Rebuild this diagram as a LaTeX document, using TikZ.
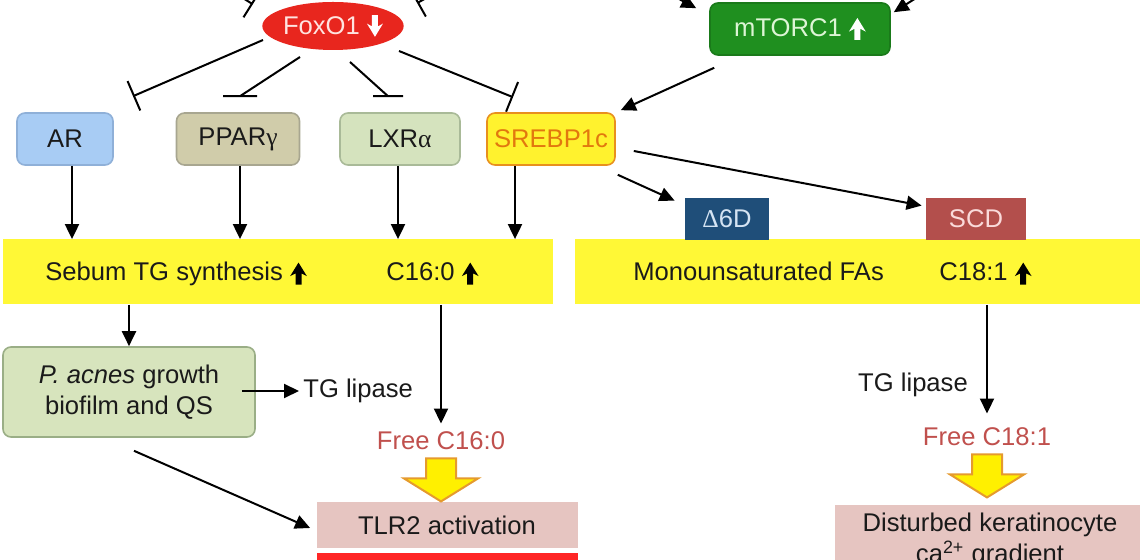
\documentclass[tikz,border=0pt]{standalone}
\usepackage{fontspec}
\setmainfont{Liberation Sans}
\newfontfamily\greekfont{Liberation Serif}
\usepackage{tikz}
\usetikzlibrary{arrows.meta,positioning,calc,shapes.geometric}
\definecolor{FoxRed}{HTML}{E8261E}
\definecolor{FoxText}{HTML}{FFE4E0}
\definecolor{MtorGreen}{HTML}{1F8F1F}
\definecolor{MtorText}{HTML}{DDF5D5}
\definecolor{ArBlue}{HTML}{A8CCF4}
\definecolor{ArEdge}{HTML}{8FB0D8}
\definecolor{PparTan}{HTML}{D0CCAA}
\definecolor{PparEdge}{HTML}{A8A690}
\definecolor{LxrGreen}{HTML}{D5E3BE}
\definecolor{LxrEdge}{HTML}{A9BA98}
\definecolor{SrebpYellow}{HTML}{FFF22E}
\definecolor{SrebpEdge}{HTML}{E8901E}
\definecolor{SrebpText}{HTML}{E2780E}
\definecolor{BandYellow}{HTML}{FFF836}
\definecolor{DeltaBlue}{HTML}{1F4E79}
\definecolor{DeltaText}{HTML}{D5E4F3}
\definecolor{ScdRed}{HTML}{B34F4C}
\definecolor{ScdText}{HTML}{FADADA}
\definecolor{PacGreen}{HTML}{D7E4BD}
\definecolor{PacEdge}{HTML}{9AAE86}
\definecolor{FreeRed}{HTML}{C0504D}
\definecolor{TlrPink}{HTML}{E6C5C1}
\definecolor{BarRed}{HTML}{FF2626}
\definecolor{ArrowYellow}{HTML}{FFF000}
\definecolor{ArrowEdge}{HTML}{E59A2E}
\definecolor{InkBlack}{HTML}{1A1A1A}
\newcommand{\UpMark}[1][black]{\tikz[baseline=0pt,x=1pt,y=1pt,sharp corners]\fill[#1]
  (-1.5,-1.8)--(-1.5,3.8)--(-4.2,2.4)--(0,9.2)--(4.2,2.4)--(1.5,3.8)--(1.5,-1.8)--cycle;}
\newcommand{\DownMark}[1][white]{\tikz[baseline=0pt,x=1pt,y=1pt,sharp corners]\fill[#1]
  (-1.5,9.6)--(-1.5,4)--(-4,5.4)--(0,-1.2)--(4,5.4)--(1.5,4)--(1.5,9.6)--cycle;}

\begin{document}
\begin{tikzpicture}[x=0.5pt,y=-0.5pt,
  font=\fontsize{12.8}{15.5}\selectfont, text=InkBlack,
  act/.style={-{Triangle[length=7.5pt,width=7pt]},line width=1pt,draw=black},
  inhib/.style={-{Bar[width=16pt,line width=1pt]},line width=1pt,draw=black},
  flatinh/.style={line width=1pt,draw=black},
  rbox/.style={rounded corners=4pt,draw,line width=0.8pt,minimum height=26pt,inner sep=2pt},
  band/.style={fill=BandYellow,minimum height=32.5pt,inner sep=0pt},
  enz/.style={minimum height=21pt,inner sep=0pt},
  lbl/.style={inner sep=0pt},
  blockarr/.style={fill=ArrowYellow,draw=ArrowEdge,line width=1pt,line join=miter}]
  \useasboundingbox (0,0) rectangle (1140,560);
  \clip (0,0) rectangle (1140,560);

  % top regulators
  \node[ellipse,fill=FoxRed,text=FoxText,minimum width=65pt,minimum height=24pt,inner sep=0pt]
    (fox) at (333,26) {FoxO1 \DownMark};
  \node[rbox,fill=MtorGreen,draw=MtorGreen!85!black,text=MtorText,minimum width=90pt]
    (mtor) at (800,29) {mTORC1 \UpMark[white]};
  \coordinate (inL) at (190,-35);
  \coordinate (inR) at (485,-35);
  \coordinate (mL) at (625,-30);
  \coordinate (mR) at (960,-30);

  % transcription factors
  \node[rbox,fill=ArBlue,draw=ArEdge,minimum width=48pt] (ar) at (65,139) {AR};
  \node[rbox,fill=PparTan,draw=PparEdge,minimum width=61.5pt] (ppar) at (238,139) {PPAR{\greekfont γ}};
  \node[rbox,fill=LxrGreen,draw=LxrEdge,minimum width=60pt] (lxr) at (400,139) {LXR{\greekfont α}};
  \node[rbox,fill=SrebpYellow,draw=SrebpEdge,text=SrebpText,minimum width=64pt] (srebp) at (551,139) {SREBP1c};

  % lipid bands
  \node[band,minimum width=275pt] (bandL) at (278,272) {};
  \node[band,minimum width=295pt] (bandR) at (870,272) {};
  \node[enz,fill=DeltaBlue,text=DeltaText,minimum width=42pt] (d6d) at (727,219) {{\greekfont Δ}6D};
  \node[enz,fill=ScdRed,text=ScdText,minimum width=50pt] (scd) at (976,219) {SCD};
  \node[lbl,anchor=base west] (tgsyn) at (45,281) {Sebum TG synthesis \UpMark};
  \node[lbl,anchor=base west] (c16) at (386,281) {C16:0 \UpMark};
  \node[lbl,anchor=base west] (mufa) at (633,281) {Monounsaturated FAs};
  \node[lbl,anchor=base west] (c18) at (939,281) {C18:1 \UpMark};

  % lower part
  \node[rbox,fill=PacGreen,draw=PacEdge,minimum width=126pt,minimum height=45pt,align=center]
    (pac) at (129,392) {\textit{P. acnes} growth\\biofilm and QS};
  \node[lbl,anchor=west] (lipA) at (303,391) {TG lipase};
  \node[lbl,text=FreeRed] (freeA) at (441,441) {Free C16:0};
  \node[fill=TlrPink,minimum width=130.5pt,minimum height=23pt] (tlr) at (447,525) {TLR2 activation};
  \node[fill=BarRed,minimum width=130.5pt,minimum height=20pt,anchor=north] (redbar) at (447,553) {};
  \node[lbl] (lipB) at (913,385) {TG lipase};
  \node[lbl,text=FreeRed] (freeB) at (987,437) {Free C18:1};
  \node[fill=TlrPink,minimum width=155pt,minimum height=35pt,align=center]
    (dist) at (990,540) {Disturbed keratinocyte\\ca\textsuperscript{2+} gradient};

  % inhibitions
  \draw[inhib,shorten >=10pt] (inL) -- (fox.170);
  \draw[inhib,shorten >=12pt] (inR) -- (fox.10);
  \draw[inhib] ($(fox)+(-70,14)$) -- ($(ar.north)+(68,-16)$);
  \draw[flatinh] ($(fox)+(-33,31)$) -- ($(ppar.north)+(2,-16)$) ++(-17,0) -- ++(34,0);
  \draw[flatinh] ($(fox)+(17,36)$) -- ($(lxr.north)+(-12,-16)$) ++(-15,0) -- ++(30,0);
  \draw[inhib] ($(fox)+(66,25)$) -- ($(srebp.north)+(-38,-15)$);

  % activations
  \draw[act] (mL) -- ($(mtor.north west)+(-13,6)$);
  \draw[act] (mR) -- ($(mtor.north east)+(3,10)$);
  \draw[act] ($(mtor.south west)+(5,12)$) -- ($(srebp.north east)+(5,-2)$);
  \draw[act] ($(srebp.south east)+(2,9)$) -- ($(d6d.north west)+(-10,3)$);
  \draw[act] ($(srebp.east)+(18,12)$) -- ($(scd.north west)+(-4,8)$);
  \coordinate (arOut) at ($(ar.south)+(7,0)$);
  \coordinate (pparOut) at ($(ppar.south)+(2,0)$);
  \coordinate (lxrOut) at ($(lxr.south)+(-2,0)$);
  \coordinate (srebpOut) at ($(srebp.south)+(-36,0)$);
  \foreach \src in {arOut,pparOut,lxrOut,srebpOut}
    \draw[act] (\src) -- (\src |- bandL.north);
  \draw[act] (pac.north |- bandL.south) -- (pac.north);
  \draw[act] ($(pac.east)+(-14,-1)$) -- ($(lipA.west)+(-4,0)$);
  \draw[act] ($(pac.south)+(5,13)$) -- ($(tlr.west)+(-6,3)$);
  \draw[act] (freeA.north |- bandL.south) -- ($(freeA.north)+(0,-8)$);
  \draw[act] (freeB.north |- bandR.south) -- ($(freeB.north)+(0,-14)$);

  % block arrows
  \draw[blockarr] ($(freeA.south)+(-15,8)$) -- ++(30,0) -- ++(0,20) -- ++(22,0)
    -- ++(-37,23) -- ++(-37,-23) -- ++(22,0) -- cycle;
  \draw[blockarr] ($(freeB.south)+(-15,8)$) -- ++(30,0) -- ++(0,20) -- ++(22,0)
    -- ++(-37,23) -- ++(-37,-23) -- ++(22,0) -- cycle;
\end{tikzpicture}
\end{document}
